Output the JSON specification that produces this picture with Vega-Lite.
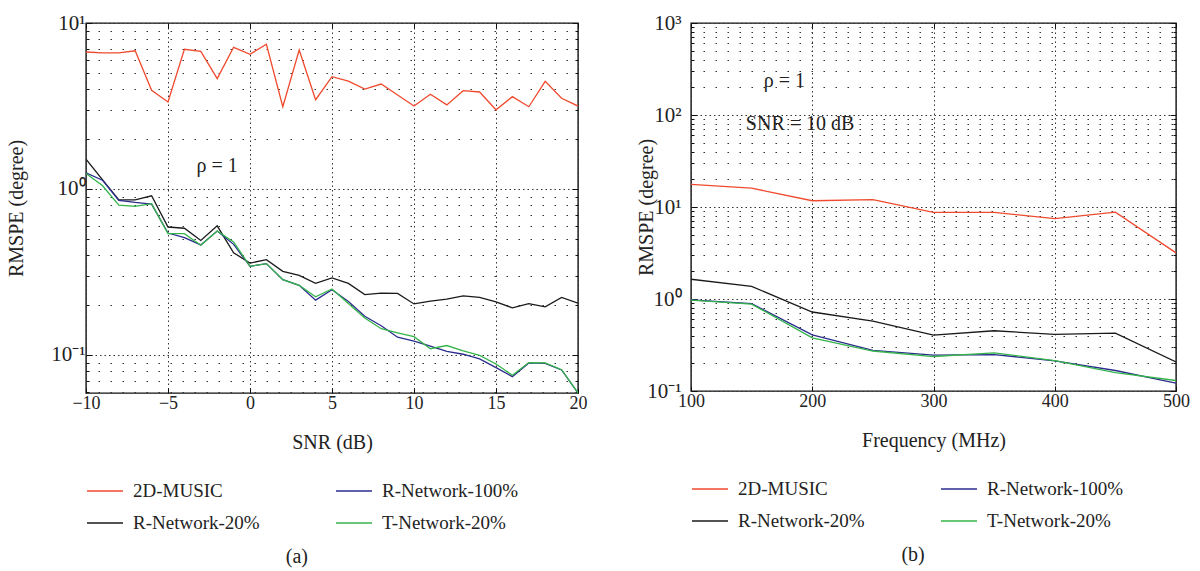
{
  "$schema": "https://vega.github.io/schema/vega-lite/v6.json",
  "background": "white",
  "padding": {"left": 6, "top": 11, "right": 5, "bottom": 2},
  "config": {
    "font": "Liberation Serif",
    "view": {"stroke": "#111", "strokeWidth": 1.4},
    "axis": {
      "labelFont": "Liberation Serif",
      "labelFontSize": 18,
      "labelColor": "#222",
      "labelFlush": false,
      "titleFont": "Liberation Serif",
      "titleFontSize": 20,
      "titleFontWeight": "normal",
      "titleColor": "#222",
      "tickColor": "#111",
      "tickWidth": 1,
      "gridColor": "#333",
      "gridWidth": 1,
      "gridOpacity": 1,
      "domain": false
    },
    "legend": {
      "labelFont": "Liberation Serif",
      "labelFontSize": 19,
      "labelColor": "#222",
      "labelLimit": 400
    },
    "title": {"font": "Liberation Serif", "fontSize": 20, "fontWeight": "normal", "color": "#222"}
  },
  "datasets": {
    "snr": [
      {"snr": -10, "2D-MUSIC": 6.69, "R-Network-100%": 1.25, "R-Network-20%": 1.51, "T-Network-20%": 1.24},
      {"snr": -9, "2D-MUSIC": 6.6, "R-Network-100%": 1.13, "R-Network-20%": 1.14, "T-Network-20%": 1.05},
      {"snr": -8, "2D-MUSIC": 6.6, "R-Network-100%": 0.855, "R-Network-20%": 0.86, "T-Network-20%": 0.8},
      {"snr": -7, "2D-MUSIC": 6.8, "R-Network-100%": 0.83, "R-Network-20%": 0.86, "T-Network-20%": 0.786},
      {"snr": -6, "2D-MUSIC": 3.93, "R-Network-100%": 0.81, "R-Network-20%": 0.91, "T-Network-20%": 0.816},
      {"snr": -5, "2D-MUSIC": 3.34, "R-Network-100%": 0.543, "R-Network-20%": 0.59, "T-Network-20%": 0.538},
      {"snr": -4, "2D-MUSIC": 6.94, "R-Network-100%": 0.509, "R-Network-20%": 0.58, "T-Network-20%": 0.538},
      {"snr": -3, "2D-MUSIC": 6.75, "R-Network-100%": 0.46, "R-Network-20%": 0.49, "T-Network-20%": 0.458},
      {"snr": -2, "2D-MUSIC": 4.62, "R-Network-100%": 0.558, "R-Network-20%": 0.6, "T-Network-20%": 0.558},
      {"snr": -1, "2D-MUSIC": 7.14, "R-Network-100%": 0.464, "R-Network-20%": 0.413, "T-Network-20%": 0.48},
      {"snr": 0, "2D-MUSIC": 6.48, "R-Network-100%": 0.342, "R-Network-20%": 0.358, "T-Network-20%": 0.342},
      {"snr": 1, "2D-MUSIC": 7.44, "R-Network-100%": 0.355, "R-Network-20%": 0.375, "T-Network-20%": 0.355},
      {"snr": 2, "2D-MUSIC": 3.13, "R-Network-100%": 0.284, "R-Network-20%": 0.319, "T-Network-20%": 0.284},
      {"snr": 3, "2D-MUSIC": 6.88, "R-Network-100%": 0.263, "R-Network-20%": 0.302, "T-Network-20%": 0.263},
      {"snr": 4, "2D-MUSIC": 3.45, "R-Network-100%": 0.214, "R-Network-20%": 0.27, "T-Network-20%": 0.224},
      {"snr": 5, "2D-MUSIC": 4.75, "R-Network-100%": 0.247, "R-Network-20%": 0.291, "T-Network-20%": 0.25},
      {"snr": 6, "2D-MUSIC": 4.47, "R-Network-100%": 0.21, "R-Network-20%": 0.27, "T-Network-20%": 0.204},
      {"snr": 7, "2D-MUSIC": 4.0, "R-Network-100%": 0.171, "R-Network-20%": 0.231, "T-Network-20%": 0.167},
      {"snr": 8, "2D-MUSIC": 4.29, "R-Network-100%": 0.15, "R-Network-20%": 0.236, "T-Network-20%": 0.144},
      {"snr": 9, "2D-MUSIC": 3.68, "R-Network-100%": 0.128, "R-Network-20%": 0.235, "T-Network-20%": 0.136},
      {"snr": 10, "2D-MUSIC": 3.16, "R-Network-100%": 0.121, "R-Network-20%": 0.203, "T-Network-20%": 0.129},
      {"snr": 11, "2D-MUSIC": 3.72, "R-Network-100%": 0.113, "R-Network-20%": 0.211, "T-Network-20%": 0.109},
      {"snr": 12, "2D-MUSIC": 3.21, "R-Network-100%": 0.105, "R-Network-20%": 0.217, "T-Network-20%": 0.114},
      {"snr": 13, "2D-MUSIC": 3.91, "R-Network-100%": 0.101, "R-Network-20%": 0.227, "T-Network-20%": 0.106},
      {"snr": 14, "2D-MUSIC": 3.84, "R-Network-100%": 0.0946, "R-Network-20%": 0.222, "T-Network-20%": 0.0995},
      {"snr": 15, "2D-MUSIC": 3.0, "R-Network-100%": 0.0839, "R-Network-20%": 0.209, "T-Network-20%": 0.0883},
      {"snr": 16, "2D-MUSIC": 3.6, "R-Network-100%": 0.074, "R-Network-20%": 0.192, "T-Network-20%": 0.0755},
      {"snr": 17, "2D-MUSIC": 3.13, "R-Network-100%": 0.0895, "R-Network-20%": 0.204, "T-Network-20%": 0.09},
      {"snr": 18, "2D-MUSIC": 4.45, "R-Network-100%": 0.089, "R-Network-20%": 0.195, "T-Network-20%": 0.0895},
      {"snr": 19, "2D-MUSIC": 3.52, "R-Network-100%": 0.0812, "R-Network-20%": 0.222, "T-Network-20%": 0.0815},
      {"snr": 20, "2D-MUSIC": 3.16, "R-Network-100%": 0.059, "R-Network-20%": 0.205, "T-Network-20%": 0.059}
    ],
    "freq": [
      {"freq": 100, "2D-MUSIC": 17.6, "R-Network-100%": 0.98, "R-Network-20%": 1.64, "T-Network-20%": 0.97},
      {"freq": 150, "2D-MUSIC": 16.0, "R-Network-100%": 0.89, "R-Network-20%": 1.37, "T-Network-20%": 0.88},
      {"freq": 200, "2D-MUSIC": 11.7, "R-Network-100%": 0.408, "R-Network-20%": 0.722, "T-Network-20%": 0.379},
      {"freq": 250, "2D-MUSIC": 12.0, "R-Network-100%": 0.276, "R-Network-20%": 0.575, "T-Network-20%": 0.272},
      {"freq": 300, "2D-MUSIC": 8.73, "R-Network-100%": 0.245, "R-Network-20%": 0.405, "T-Network-20%": 0.237},
      {"freq": 350, "2D-MUSIC": 8.73, "R-Network-100%": 0.249, "R-Network-20%": 0.452, "T-Network-20%": 0.26},
      {"freq": 400, "2D-MUSIC": 7.46, "R-Network-100%": 0.213, "R-Network-20%": 0.412, "T-Network-20%": 0.214},
      {"freq": 450, "2D-MUSIC": 8.8, "R-Network-100%": 0.167, "R-Network-20%": 0.426, "T-Network-20%": 0.158},
      {"freq": 500, "2D-MUSIC": 3.17, "R-Network-100%": 0.122, "R-Network-20%": 0.207, "T-Network-20%": 0.13}
    ]
  },
  "resolve": {"scale": {"color": "independent"}},
  "spacing": 48,
  "hconcat": [
    {
      "width": 492,
      "height": 370,
      "title": {"text": "(a)", "orient": "bottom", "anchor": "middle", "frame": "bounds", "offset": 14},
      "resolve": {"axis": {"x": "independent", "y": "independent"}},
      "layer": [
        {
          "data": {"name": "snr"},
          "transform": [
            {"fold": ["2D-MUSIC", "R-Network-20%", "R-Network-100%", "T-Network-20%"], "as": ["method", "rmspe"]}
          ],
          "mark": {"type": "line", "strokeWidth": 1.3, "clip": true},
          "encoding": {
            "x": {
              "field": "snr", "type": "quantitative",
              "scale": {"domain": [-10, 20], "nice": false, "zero": false},
              "axis": {
                "orient": "bottom", "title": "SNR (dB)",
                "values": [-10, -5, 0, 5, 10, 15, 20],
                "grid": true, "gridDash": [1.5, 3],
                "tickSize": -5, "labelPadding": 6, "titlePadding": 20
              }
            },
            "y": {
              "field": "rmspe", "type": "quantitative",
              "scale": {"type": "log", "domain": [0.059, 10], "nice": false},
              "axis": {
                "orient": "left", "title": "RMSPE (degree)",
                "values": [0.06, 0.07, 0.08, 0.09, 0.1, 0.2, 0.3, 0.4, 0.5, 0.6, 0.7, 0.8, 0.9, 1, 2, 3, 4, 5, 6, 7, 8, 9, 10],
                "labelExpr": "datum.value == 0.1 ? '10⁻¹' : datum.value == 1 ? '10⁰' : datum.value == 10 ? '10¹' : ''",
                "labelFontSize": 21,
                "grid": true,
                "gridDash": {"condition": {"test": "datum.value == 0.1 || datum.value == 1 || datum.value == 10", "value": [1.5, 3]}, "value": [1.5, 10.5]},
                "tickSize": {"condition": {"test": "datum.value == 0.1 || datum.value == 1 || datum.value == 10", "value": -6}, "value": -3},
                "labelPadding": 7, "titlePadding": 24
              }
            },
            "color": {
              "field": "method", "type": "nominal",
              "scale": {
                "domain": ["2D-MUSIC", "R-Network-100%", "R-Network-20%", "T-Network-20%"],
                "range": ["#F04A2E", "#2B2C8E", "#1A1A1A", "#34B44A"]
              },
              "legend": {
                "orient": "bottom", "direction": "horizontal", "columns": 2, "title": null,
                "symbolType": "stroke", "symbolSize": 1300, "symbolStrokeWidth": 1.6,
                "labelOffset": 9, "columnPadding": 72, "rowPadding": 3, "offset": 20
              }
            }
          }
        },
        {
          "data": {"values": [{"snr": -2, "rmspe": 1.38, "note": "ρ = 1"}]},
          "mark": {"type": "text", "font": "Liberation Serif", "fontSize": 20, "color": "#222"},
          "encoding": {
            "x": {
              "field": "snr", "type": "quantitative",
              "scale": {"domain": [-10, 20], "nice": false, "zero": false},
              "axis": {"orient": "top", "title": null, "labels": false, "values": [-10, -5, 0, 5, 10, 15, 20], "grid": false, "tickSize": -5}
            },
            "y": {
              "field": "rmspe", "type": "quantitative",
              "scale": {"type": "log", "domain": [0.059, 10], "nice": false},
              "axis": {
                "orient": "right", "title": null, "labels": false, "grid": false,
                "values": [0.06, 0.07, 0.08, 0.09, 0.1, 0.2, 0.3, 0.4, 0.5, 0.6, 0.7, 0.8, 0.9, 1, 2, 3, 4, 5, 6, 7, 8, 9, 10],
                "tickSize": {"condition": {"test": "datum.value == 0.1 || datum.value == 1 || datum.value == 10", "value": -6}, "value": -3}
              }
            },
            "text": {"field": "note"}
          }
        }
      ]
    },
    {
      "width": 485,
      "height": 368,
      "title": {"text": "(b)", "orient": "bottom", "anchor": "middle", "frame": "bounds", "offset": 14},
      "resolve": {"axis": {"x": "independent", "y": "independent"}},
      "layer": [
        {
          "data": {"name": "freq"},
          "transform": [
            {"fold": ["2D-MUSIC", "R-Network-20%", "R-Network-100%", "T-Network-20%"], "as": ["method", "rmspe"]}
          ],
          "mark": {"type": "line", "strokeWidth": 1.3, "clip": true},
          "encoding": {
            "x": {
              "field": "freq", "type": "quantitative",
              "scale": {"domain": [100, 500], "nice": false, "zero": false},
              "axis": {
                "orient": "bottom", "title": "Frequency (MHz)",
                "values": [100, 200, 300, 400, 500],
                "grid": true, "gridDash": [1.5, 3],
                "tickSize": -5, "labelPadding": 6, "titlePadding": 20
              }
            },
            "y": {
              "field": "rmspe", "type": "quantitative",
              "scale": {"type": "log", "domain": [0.1, 1000], "nice": false},
              "axis": {
                "orient": "left", "title": "RMSPE (degree)",
                "values": [0.1, 0.2, 0.3, 0.4, 0.5, 0.6, 0.7, 0.8, 0.9, 1, 2, 3, 4, 5, 6, 7, 8, 9, 10, 20, 30, 40, 50, 60, 70, 80, 90, 100, 200, 300, 400, 500, 600, 700, 800, 900, 1000],
                "labelExpr": "datum.value == 0.1 ? '10⁻¹' : datum.value == 1 ? '10⁰' : datum.value == 10 ? '10¹' : datum.value == 100 ? '10²' : datum.value == 1000 ? '10³' : ''",
                "labelFontSize": 21,
                "grid": true,
                "gridDash": {"condition": {"test": "datum.value == 0.1 || datum.value == 1 || datum.value == 10 || datum.value == 100 || datum.value == 1000", "value": [1.5, 3]}, "value": [1.5, 10.5]},
                "tickSize": {"condition": {"test": "datum.value == 0.1 || datum.value == 1 || datum.value == 10 || datum.value == 100 || datum.value == 1000", "value": -6}, "value": -3},
                "labelPadding": 16, "titlePadding": -10
              }
            },
            "color": {
              "field": "method", "type": "nominal",
              "scale": {
                "domain": ["2D-MUSIC", "R-Network-100%", "R-Network-20%", "T-Network-20%"],
                "range": ["#F04A2E", "#2B2C8E", "#1A1A1A", "#34B44A"]
              },
              "legend": {
                "orient": "bottom", "direction": "horizontal", "columns": 2, "title": null,
                "symbolType": "stroke", "symbolSize": 1300, "symbolStrokeWidth": 1.6,
                "labelOffset": 9, "columnPadding": 72, "rowPadding": 3, "offset": 20
              }
            }
          }
        },
        {
          "data": {"values": [
            {"freq": 177, "rmspe": 232, "note": "ρ = 1"},
            {"freq": 190, "rmspe": 79, "note": "SNR = 10 dB"}
          ]},
          "mark": {"type": "text", "font": "Liberation Serif", "fontSize": 20, "color": "#222"},
          "encoding": {
            "x": {
              "field": "freq", "type": "quantitative",
              "scale": {"domain": [100, 500], "nice": false, "zero": false},
              "axis": {"orient": "top", "title": null, "labels": false, "values": [100, 200, 300, 400, 500], "grid": false, "tickSize": -5}
            },
            "y": {
              "field": "rmspe", "type": "quantitative",
              "scale": {"type": "log", "domain": [0.1, 1000], "nice": false},
              "axis": {
                "orient": "right", "title": null, "labels": false, "grid": false,
                "values": [0.1, 0.2, 0.3, 0.4, 0.5, 0.6, 0.7, 0.8, 0.9, 1, 2, 3, 4, 5, 6, 7, 8, 9, 10, 20, 30, 40, 50, 60, 70, 80, 90, 100, 200, 300, 400, 500, 600, 700, 800, 900, 1000],
                "tickSize": {"condition": {"test": "datum.value == 0.1 || datum.value == 1 || datum.value == 10 || datum.value == 100 || datum.value == 1000", "value": -6}, "value": -3}
              }
            },
            "text": {"field": "note"}
          }
        }
      ]
    }
  ]
}
